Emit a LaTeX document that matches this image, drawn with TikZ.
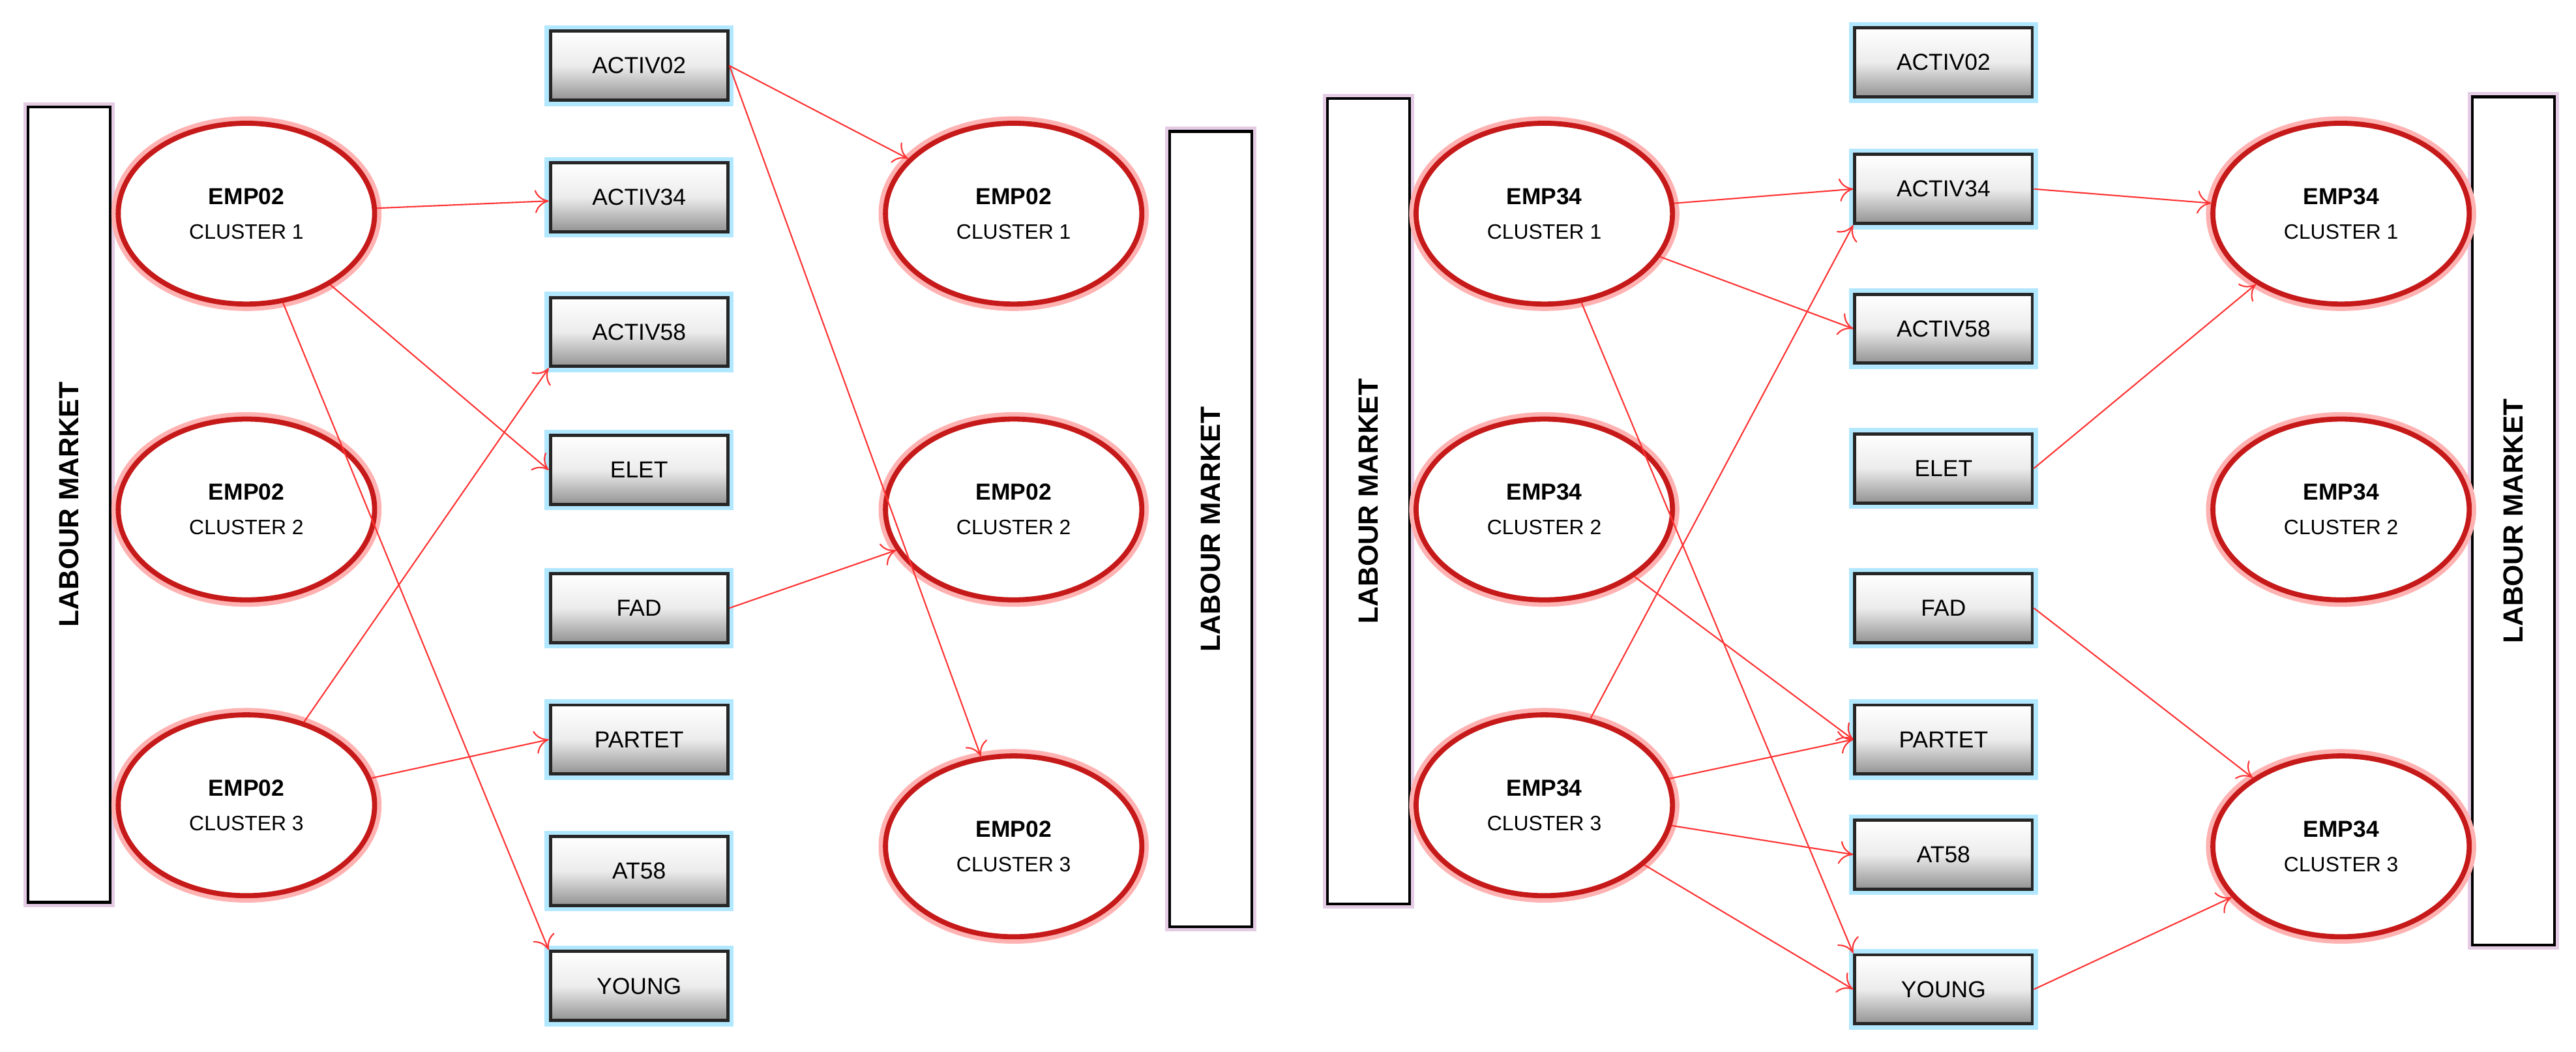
\documentclass[tikz,border=0pt]{standalone}
\usepackage{fontspec}
\setmainfont{Liberation Sans}
\usetikzlibrary{shapes.geometric,arrows.meta}

\begin{document}
\begin{tikzpicture}[x=0.025cm,y=-0.025cm]
  \tikzset{cluster/.style = {shape=ellipse,draw=red!75!black!90,line width=2.2pt,fill=white,
             minimum width=3.9cm,minimum height=2.75cm,align=center,
             preaction={draw=red!30,line width=6pt}},
           var/.style = {shape=rectangle,draw=black!85,line width=1.4pt,top color=white,bottom color=gray!85,
             middle color=gray!15,minimum width=2.7cm,minimum height=1.05cm,font=\fontsize{10}{12}\selectfont,
             preaction={draw=blue!30!cyan!30,line width=5pt}},
           market/.style = {shape=rectangle,draw=black,line width=1.2pt,fill=white,minimum width=1.25cm,
             preaction={draw=violet!20,line width=4pt}},
           link/.style = {draw=red!80,line width=0.6pt,-{To[length=6pt,width=10pt]}}}
  \useasboundingbox (0,0) rectangle (1568,640);

  % labour market bars
  \node[market,minimum height=12.1cm] (lm1) at (42,307) {};
  \node[market,minimum height=12.1cm] (lm2) at (737,322) {};
  \node[market,minimum height=12.25cm] (lm3) at (833,305) {};
  \node[market,minimum height=12.9cm] (lm4) at (1530,317) {};
  \foreach \n in {lm1,lm2,lm3,lm4}
    \node[rotate=90,font=\bfseries\fontsize{12}{14}\selectfont] at (\n) {LABOUR MARKET};

  % left panel
  \node[cluster] (a1) at (150,130) {\textbf{EMP02}\\[3pt]\small CLUSTER 1};
  \node[cluster] (a2) at (150,310) {\textbf{EMP02}\\[3pt]\small CLUSTER 2};
  \node[cluster] (a3) at (150,490) {\textbf{EMP02}\\[3pt]\small CLUSTER 3};
  \node[cluster] (b1) at (617,130) {\textbf{EMP02}\\[3pt]\small CLUSTER 1};
  \node[cluster] (b2) at (617,310) {\textbf{EMP02}\\[3pt]\small CLUSTER 2};
  \node[cluster] (b3) at (617,515) {\textbf{EMP02}\\[3pt]\small CLUSTER 3};
  \foreach \t/\y [count=\i] in {ACTIV02/40,ACTIV34/120,ACTIV58/202,ELET/286,FAD/370,PARTET/450,AT58/530,YOUNG/600}
    \node[var] (v\i) at (389,\y) {\t};

  % right panel
  \node[cluster] (c1) at (940,130) {\textbf{EMP34}\\[3pt]\small CLUSTER 1};
  \node[cluster] (c2) at (940,310) {\textbf{EMP34}\\[3pt]\small CLUSTER 2};
  \node[cluster] (c3) at (940,490) {\textbf{EMP34}\\[3pt]\small CLUSTER 3};
  \node[cluster] (d1) at (1425,130) {\textbf{EMP34}\\[3pt]\small CLUSTER 1};
  \node[cluster] (d2) at (1425,310) {\textbf{EMP34}\\[3pt]\small CLUSTER 2};
  \node[cluster] (d3) at (1425,515) {\textbf{EMP34}\\[3pt]\small CLUSTER 3};
  \foreach \t/\y [count=\i] in {ACTIV02/38,ACTIV34/115,ACTIV58/200,ELET/285,FAD/370,PARTET/450,AT58/520,YOUNG/602}
    \node[var] (w\i) at (1183,\y) {\t};

  % links
  \draw[link] (a1) -- (v2);
  \draw[link] (a1) -- (v4.west);
  \draw[link] (a1) -- (v8.north west);
  \draw[link] (a3) -- (v3.south west);
  \draw[link] (a3) -- (v6.west);
  \draw[link] (v1.east) -- (b1);
  \draw[link] (v1.east) -- (b3);
  \draw[link] (v5.east) -- (b2);
  \draw[link] (c1) -- (w2.west);
  \draw[link] (c1) -- (w3.west);
  \draw[link] (c1) -- (w8.north west);
  \draw[link] (c2) -- (w6.west);
  \draw[link] (c3) -- (w2.south west);
  \draw[link] (c3) -- (w6.west);
  \draw[link] (c3) -- (w7.west);
  \draw[link] (c3) -- (w8.west);
  \draw[link] (w2.east) -- (d1);
  \draw[link] (w4.east) -- (d1);
  \draw[link] (w5.east) -- (d3);
  \draw[link] (w8.east) -- (d3);
\end{tikzpicture}
\end{document}
